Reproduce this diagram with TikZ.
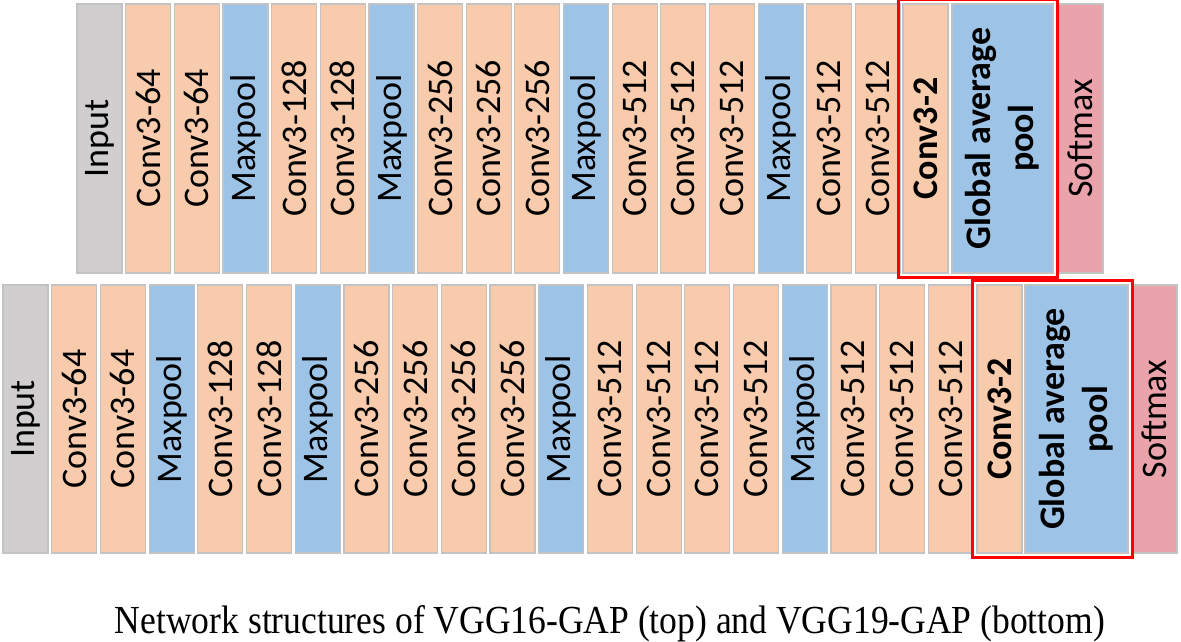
\documentclass[tikz,border=0pt]{standalone}
\usepackage{fontspec}
\setmainfont{Carlito}
\newfontfamily\capfont{Liberation Serif}
\usetikzlibrary{fit}
\definecolor{convpeach}{RGB}{248,203,173}
\definecolor{poolblue}{RGB}{157,195,230}
\definecolor{inputgray}{RGB}{208,206,206}
\definecolor{softpink}{RGB}{234,163,170}
\definecolor{edgegray}{RGB}{195,195,195}
\tikzset{
  layer/.style={draw=edgegray,line width=1.2pt,fill=#1,rotate=90,inner sep=0pt,
    minimum height=45pt,align=center,font=\fontsize{36}{43}\selectfont},
  layer/.default=convpeach,
  toplayer/.style={layer=#1,minimum width=269pt},
  botlayer/.style={layer=#1,minimum width=268pt},
  gapframe/.style={draw=red,line width=3pt,inner sep=3.5pt},
  strong/.style={font=\fontsize{36}{43}\selectfont\bfseries},
}

\begin{document}
\begin{tikzpicture}[x=1pt,y=-1pt]
  \useasboundingbox (0,0) rectangle (1181,641);
  % VGG16-GAP
  \foreach \t/\c [count=\i from 0] in {Input/inputgray,Conv3-64/convpeach,Conv3-64/convpeach,
      Maxpool/poolblue,Conv3-128/convpeach,Conv3-128/convpeach,Maxpool/poolblue,
      Conv3-256/convpeach,Conv3-256/convpeach,Conv3-256/convpeach,Maxpool/poolblue,
      Conv3-512/convpeach,Conv3-512/convpeach,Conv3-512/convpeach,Maxpool/poolblue,
      Conv3-512/convpeach,Conv3-512/convpeach}
    \node[toplayer=\c] (t\i) at (99.5+48.65*\i,138.5) {\t};
  \node[toplayer,strong] (tconv) at (925.5,138.5) {Conv3-2};
  \node[toplayer=poolblue,strong,minimum height=101pt] (tgap) at (1002.5,138.5) {Global average\\pool};
  \node[toplayer=softpink] (tsoft) at (1080.5,138.5) {Softmax};
  \node[gapframe,fit=(tconv)(tgap)] (tframe) {};
  % VGG19-GAP
  \foreach \t/\c [count=\i from 0] in {Input/inputgray,Conv3-64/convpeach,Conv3-64/convpeach,
      Maxpool/poolblue,Conv3-128/convpeach,Conv3-128/convpeach,Maxpool/poolblue,
      Conv3-256/convpeach,Conv3-256/convpeach,Conv3-256/convpeach,Conv3-256/convpeach,Maxpool/poolblue,
      Conv3-512/convpeach,Conv3-512/convpeach,Conv3-512/convpeach,Conv3-512/convpeach,Maxpool/poolblue,
      Conv3-512/convpeach,Conv3-512/convpeach,Conv3-512/convpeach}
    \node[botlayer=\c] (b\i) at (25.5+48.7*\i,419) {\t};
  \node[botlayer,strong] (bconv) at (999.5,419) {Conv3-2};
  \node[botlayer=poolblue,strong,minimum height=103pt] (bgap) at (1076.5,419) {Global average\\pool};
  \node[botlayer=softpink] (bsoft) at (1154.5,419) {Softmax};
  \node[gapframe,fit=(bconv)(bgap)] (bframe) {};
  \node[anchor=base,inner sep=0pt] (caption) at (610,633)
    {\resizebox{990pt}{28pt}{\capfont\fontsize{36}{40}\selectfont Network structures of VGG16-GAP (top) and VGG19-GAP (bottom)}};
\end{tikzpicture}
\end{document}
